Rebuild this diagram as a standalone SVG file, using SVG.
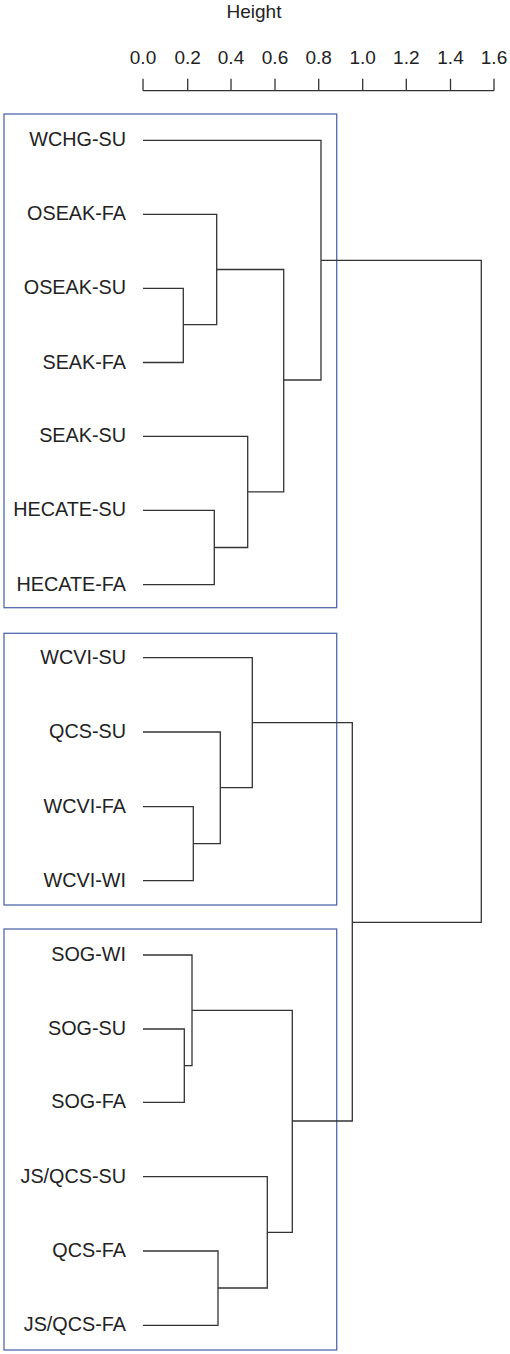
<svg xmlns="http://www.w3.org/2000/svg" width="510" height="1354" viewBox="0 0 510 1354">
<style>
text{font-family:"Liberation Sans",Arial,sans-serif;fill:#222}
.ax{font-size:19px;text-anchor:middle}
.lb{font-size:19.8px;text-anchor:end}
.box{fill:none;stroke:#5468ad;stroke-width:1.3}
.ln{fill:none;stroke:#333;stroke-width:1.3}
</style>
<rect width="510" height="1354" fill="#fff"/>
<g id="axis">
<text x="254" y="18.3" class="ax">Height</text>
<text x="143" y="64.3" class="ax">0.0</text>
<text x="187.7" y="64.3" class="ax">0.2</text>
<text x="231" y="64.3" class="ax">0.4</text>
<text x="275" y="64.3" class="ax">0.6</text>
<text x="318.7" y="64.3" class="ax">0.8</text>
<text x="362.7" y="64.3" class="ax">1.0</text>
<text x="406.3" y="64.3" class="ax">1.2</text>
<text x="450.5" y="64.3" class="ax">1.4</text>
<text x="494" y="64.3" class="ax">1.6</text>
<path class="ln" d="M143,90.7H494M143,78.7V90.7M187.7,78.7V90.7M231,78.7V90.7M275,78.7V90.7M318.7,78.7V90.7M362.7,78.7V90.7M406.3,78.7V90.7M450.5,78.7V90.7M494,78.7V90.7"/>
</g>
<g id="boxes">
<rect id="box1" class="box" x="4" y="114" width="332.7" height="493.7"/>
<rect id="box2" class="box" x="4" y="633.3" width="332.7" height="271.7"/>
<rect id="box3" class="box" x="4" y="929" width="332.7" height="421"/>
</g>
<g id="n-WCHG-SU"><text class="lb" x="126" y="146.3">WCHG-SU</text></g>
<g id="n-OSEAK-FA"><text class="lb" x="126" y="220.4">OSEAK-FA</text></g>
<g id="n-OSEAK-SU"><text class="lb" x="126" y="294.4">OSEAK-SU</text></g>
<g id="n-SEAK-FA"><text class="lb" x="126" y="368.5">SEAK-FA</text></g>
<g id="n-SEAK-SU"><text class="lb" x="126" y="442.3">SEAK-SU</text></g>
<g id="n-HECATE-SU"><text class="lb" x="126" y="516.4">HECATE-SU</text></g>
<g id="n-HECATE-FA"><text class="lb" x="126" y="590.7">HECATE-FA</text></g>
<g id="n-WCVI-SU"><text class="lb" x="126" y="663.7">WCVI-SU</text></g>
<g id="n-QCS-SU"><text class="lb" x="126" y="738">QCS-SU</text></g>
<g id="n-WCVI-FA"><text class="lb" x="126" y="812.7">WCVI-FA</text></g>
<g id="n-WCVI-WI"><text class="lb" x="126" y="886.7">WCVI-WI</text></g>
<g id="n-SOG-WI"><text class="lb" x="126" y="961">SOG-WI</text></g>
<g id="n-SOG-SU"><text class="lb" x="126" y="1035">SOG-SU</text></g>
<g id="n-SOG-FA"><text class="lb" x="126" y="1108.3">SOG-FA</text></g>
<g id="n-JS-QCS-SU"><text class="lb" x="126" y="1182.7">JS/QCS-SU</text></g>
<g id="n-QCS-FA"><text class="lb" x="126" y="1257">QCS-FA</text></g>
<g id="n-JS-QCS-FA"><text class="lb" x="126" y="1331.3">JS/QCS-FA</text></g>
<g id="connectors" class="ln">
<path class="ln" d="M143,140.3H321V380H283.7"/>
<path class="ln" d="M143,214.4H216.7V324.6H183.3"/>
<path class="ln" d="M143,288.4H183.3V362.5H143"/>
<path class="ln" d="M216.7,269.5H283.7V491.8H247.7"/>
<path class="ln" d="M143,436.3H247.7V547.5H214.3"/>
<path class="ln" d="M143,510.4H214.3V584.7H143"/>
<path class="ln" d="M321,260.3H481.3V922.4H352.3"/>
<path class="ln" d="M143,657.7H252.3V787.6H220.3"/>
<path class="ln" d="M143,732H220.3V843.7H193.3"/>
<path class="ln" d="M143,806.7H193.3V880.7H143"/>
<path class="ln" d="M252.3,722.7H352.3V1121H292.3"/>
<path class="ln" d="M143,955H192V1065.7H184.3"/>
<path class="ln" d="M143,1029H184.3V1102.3H143"/>
<path class="ln" d="M192,1010.3H292.3V1232.3H267.3"/>
<path class="ln" d="M143,1176.7H267.3V1288H218"/>
<path class="ln" d="M143,1251H218V1325.3H143"/>
</g>
</svg>
